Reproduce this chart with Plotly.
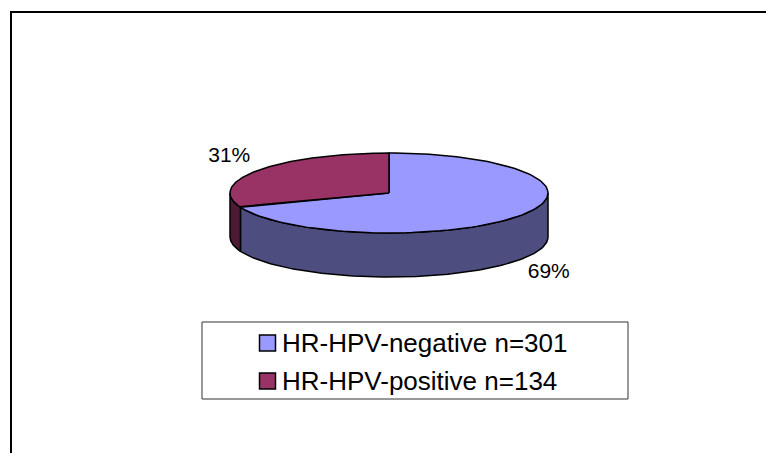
import numpy as np
import plotly.graph_objects as go

# ---- data ----
categories = ["HR-HPV-negative n=301", "HR-HPV-positive n=134"]
values = [301, 134]
top_colors = ["#9999FF", "#993366"]
side_colors = ["#4D4D80", "#4D1A33"]

# ---- geometry (page pixels; the page body has an 8px margin) ----
W, H = 780, 461
OFF = 8
CX, CY, RX, RY, DEPTH = 389, 193, 159, 40, 44
FONT = "Liberation Sans, Arial, sans-serif"

total = sum(values)
fracs = np.array(values) / total
starts = np.concatenate([[0], np.cumsum(fracs)[:-1]]) * 360
ends = starts + fracs * 360


def arc(a, b, dy=0, n=120):
    t = np.radians(np.linspace(a, b, n))
    return CX + RX * np.sin(t), CY - RY * np.cos(t) + dy


fig = go.Figure()

X_END, Y_END = W - OFF, H - OFF

# chart frame (only left and top edges fall inside the picture)
fig.add_trace(go.Scatter(x=[11, 11, X_END - 6], y=[Y_END + 20, 12, 12],
                         mode="lines", line=dict(color="black", width=2),
                         hoverinfo="skip", showlegend=False))

# side walls (front half: 90..270 deg clockwise from 12 o'clock)
for i in range(len(values)):
    a, b = max(starts[i], 90), min(ends[i], 270)
    if b <= a:
        continue
    xt, yt = arc(a, b)
    xb, yb = arc(b, a, DEPTH)
    xs = np.concatenate([xt, xb, xt[:1]])
    ys = np.concatenate([yt, yb, yt[:1]])
    fig.add_trace(go.Scatter(x=xs, y=ys, mode="lines", fill="toself",
                             fillcolor=side_colors[i],
                             line=dict(color="black", width=1.5),
                             hoverinfo="skip", showlegend=False))

# top faces
for i in range(len(values)):
    xa, ya = arc(starts[i], ends[i])
    xs = np.concatenate([[CX], xa, [CX]])
    ys = np.concatenate([[CY], ya, [CY]])
    fig.add_trace(go.Scatter(x=xs, y=ys, mode="lines", fill="toself",
                             fillcolor=top_colors[i],
                             line=dict(color="black", width=1.5),
                             hoverinfo="skip", showlegend=False))

# percentage labels
lx, ly, lt = [], [], []
for i in range(len(values)):
    mid = np.radians((starts[i] + ends[i]) / 2)
    s, c = np.sin(mid), np.cos(mid)
    x = CX + 1.22 * RX * s
    y = CY - 1.58 * RY * c + (DEPTH if c < 0 else 0)
    lx.append(x); ly.append(y); lt.append(f"{round(fracs[i]*100)}%")
fig.add_trace(go.Scatter(x=lx, y=ly, mode="text", text=lt,
                         textfont=dict(family=FONT, size=21, color="black"),
                         hoverinfo="skip", showlegend=False))

# legend (manual)
LEG_X0, LEG_X1, LEG_Y0, LEG_Y1 = 202, 628, 322, 399
rows = [343, 381]
fig.add_shape(type="rect", xref="x", yref="y", x0=LEG_X0, x1=LEG_X1,
              y0=LEG_Y0, y1=LEG_Y1, line=dict(color="#333333", width=1),
              fillcolor="white", layer="below")
fig.add_trace(go.Scatter(x=[267.5] * len(values), y=rows, mode="markers",
                         marker=dict(symbol="square", size=16, color=top_colors,
                                     line=dict(color="black", width=1.5)),
                         hoverinfo="skip", showlegend=False))
for i, cat in enumerate(categories):
    fig.add_annotation(x=280, y=rows[i], xref="x", yref="y", text=cat,
                       showarrow=False, xanchor="left", yanchor="middle",
                       font=dict(family=FONT, size=26, color="black"))

fig.update_layout(width=X_END - OFF, height=Y_END - OFF,
                  margin=dict(l=0, r=0, t=0, b=0),
                  paper_bgcolor="white", plot_bgcolor="white",
                  xaxis=dict(range=[OFF, X_END], visible=False, fixedrange=True),
                  yaxis=dict(range=[Y_END, OFF], visible=False, fixedrange=True),
                  showlegend=False)

fig.write_html("out.html")
